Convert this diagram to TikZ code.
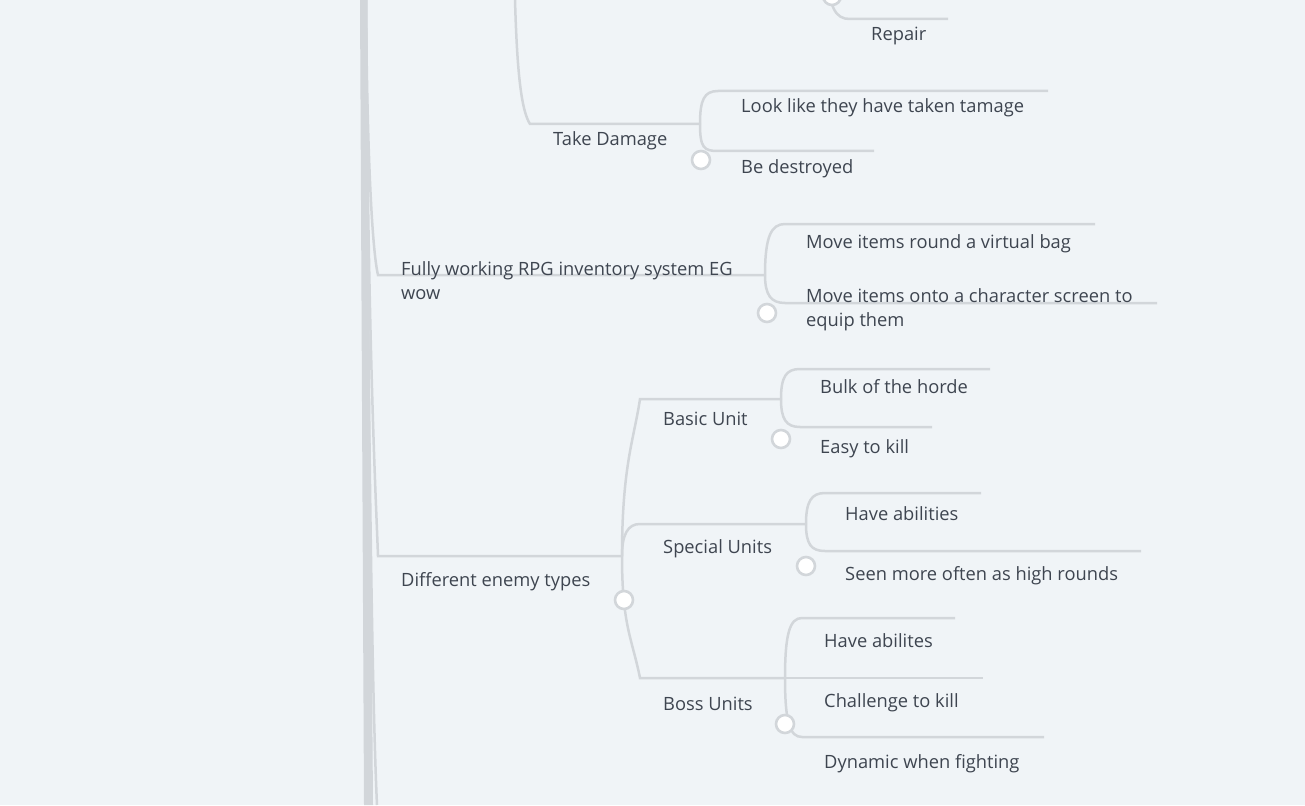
\documentclass[tikz,border=0pt]{standalone}
\usepackage{fontspec}
\setmainfont{Open Sans}
\usepackage{tikz}
\usetikzlibrary{positioning}
\definecolor{bg}{HTML}{F0F4F7}
\definecolor{edge}{HTML}{D2D6DA}
\definecolor{ink}{HTML}{3E4550}
\tikzset{
        topic/.style={inner sep=0pt, anchor=base west, text=ink, align=left,
                      font=\fontsize{18.3}{24}\selectfont},
        link/.style={draw=edge, line width=2.5pt},
        knob/.style={circle, draw=edge, fill=white, line width=2.6pt,
                     minimum size=18pt, inner sep=0pt},
 }

\begin{document}
\begin{tikzpicture}[x=1pt, y=-1pt]
    \fill[bg] (0,0) rectangle (1305,805);
    \useasboundingbox (0,0) rectangle (1305,805);

    \coordinate (root) at (366,0);
    \coordinate (up) at (515,0);
    \coordinate (low) at (377,805);

    \coordinate (td) at (530,124);
    \coordinate (tdj) at (700,124);
    \coordinate (tda) at (718,91);
    \coordinate (tdae) at (1048,91);
    \coordinate (tdb) at (718,151);
    \coordinate (tdbe) at (874,151);

    \coordinate (rp) at (826,-40);
    \coordinate (rpb) at (850,19);
    \coordinate (rpbe) at (948,19);

    \coordinate (fw) at (378,275);
    \coordinate (fwj) at (765,275);
    \coordinate (fwa) at (785,224);
    \coordinate (fwae) at (1095,224);
    \coordinate (fwb) at (785,303);
    \coordinate (fwbe) at (1157,303);

    \coordinate (de) at (378,556);
    \coordinate (dej) at (622,556);
    \coordinate (bu) at (640,399);
    \coordinate (buj) at (781,399);
    \coordinate (bua) at (800,369);
    \coordinate (buae) at (990,369);
    \coordinate (bub) at (800,427);
    \coordinate (bube) at (932,427);
    \coordinate (su) at (640,524);
    \coordinate (suj) at (806,524);
    \coordinate (sua) at (825,493);
    \coordinate (suae) at (981,493);
    \coordinate (sub) at (825,551);
    \coordinate (sube) at (1141,551);
    \coordinate (bo) at (640,678);
    \coordinate (boj) at (785,678);
    \coordinate (boa) at (802,618);
    \coordinate (boae) at (955,618);
    \coordinate (bobe) at (983,678);
    \coordinate (boc) at (802,737);
    \coordinate (boce) at (1044,737);

    \fill[edge] (360,0) -- (367,0) -- (373,805) -- (364,805) -- cycle;
    \draw[link] (root) .. controls (368,400) and (372,700) .. (low);
    \draw[link] (root) .. controls (367,150) and (372,250) .. (fw) -- (fwj);
    \draw[link] (root) .. controls (368,350) and (376,500) .. (de) -- (dej);

    \draw[link] (up) .. controls (517,70) and (521,110) .. (td) -- (tdj);
    \draw[link] (tdj) .. controls +(0,-24) and +(-14,0) .. (tda) -- (tdae);
    \draw[link] (tdj) .. controls +(0,24) and +(-14,0) .. (tdb) -- (tdbe);

    \draw[link] (rp) .. controls (828,10) and (836,19) .. (rpb) -- (rpbe);

    \draw[link] (fwj) .. controls +(0,-38) and +(-14,0) .. (fwa) -- (fwae);
    \draw[link] (fwj) .. controls +(0,20) and +(-14,0) .. (fwb) -- (fwbe);

    \draw[link] (dej) .. controls +(0,-90) and +(-6,40) .. (bu) -- (buj);
    \draw[link] (dej) .. controls +(0,-22) and +(-12,0) .. (su) -- (suj);
    \draw[link] (dej) .. controls +(0,70) and +(-8,-40) .. (bo) -- (boj);

    \draw[link] (buj) .. controls +(0,-22) and +(-14,0) .. (bua) -- (buae);
    \draw[link] (buj) .. controls +(0,20) and +(-14,0) .. (bub) -- (bube);
    \draw[link] (suj) .. controls +(0,-22) and +(-14,0) .. (sua) -- (suae);
    \draw[link] (suj) .. controls +(0,20) and +(-14,0) .. (sub) -- (sube);
    \draw[link] (boj) .. controls +(0,-45) and +(-12,0) .. (boa) -- (boae);
    \draw[link] (boj) -- (bobe);
    \draw[link] (boj) .. controls +(0,45) and +(-12,0) .. (boc) -- (boce);

    \node[knob] (k_rp) at (832,-4) {};
    \node[knob] (k_td) at (701,160) {};
    \node[knob] (k_fw) at (767,313) {};
    \node[knob] (k_de) at (624,600) {};
    \node[knob] (k_bu) at (781,439) {};
    \node[knob] (k_su) at (806,566) {};
    \node[knob] (k_bo) at (785,724) {};

    \node[topic] (repair) at (871,41) {Repair};
    \node[topic] (takedmg) at (553,146) {Take Damage};
    \node[topic] (looklike) at (741,113) {Look like they have taken tamage};
    \node[topic] (destroyed) at (741,174) {Be destroyed};
    \node[topic] (inventory) at (401,299) {Fully working RPG inventory system EG\\wow};
    \node[topic] (bag) at (806,248) {Move items round a virtual bag};
    \node[topic] (screen) at (806,326) {Move items onto a character screen to\\equip them};
    \node[topic] (enemies) at (401,586) {Different enemy types};
    \node[topic] (basic) at (663,425) {Basic Unit};
    \node[topic] (special) at (663,553) {Special Units};
    \node[topic] (boss) at (663,710) {Boss Units};
    \node[topic] (horde) at (820,393) {Bulk of the horde};
    \node[topic] (easy) at (820,453) {Easy to kill};
    \node[topic] (abilities) at (845,520) {Have abilities};
    \node[topic] (seen) at (845,580) {Seen more often as high rounds};
    \node[topic] (abilites) at (824,647) {Have abilites};
    \node[topic] (challenge) at (824,707) {Challenge to kill};
    \node[topic] (dynamic) at (824,768) {Dynamic when fighting};
\end{tikzpicture}
\end{document}
